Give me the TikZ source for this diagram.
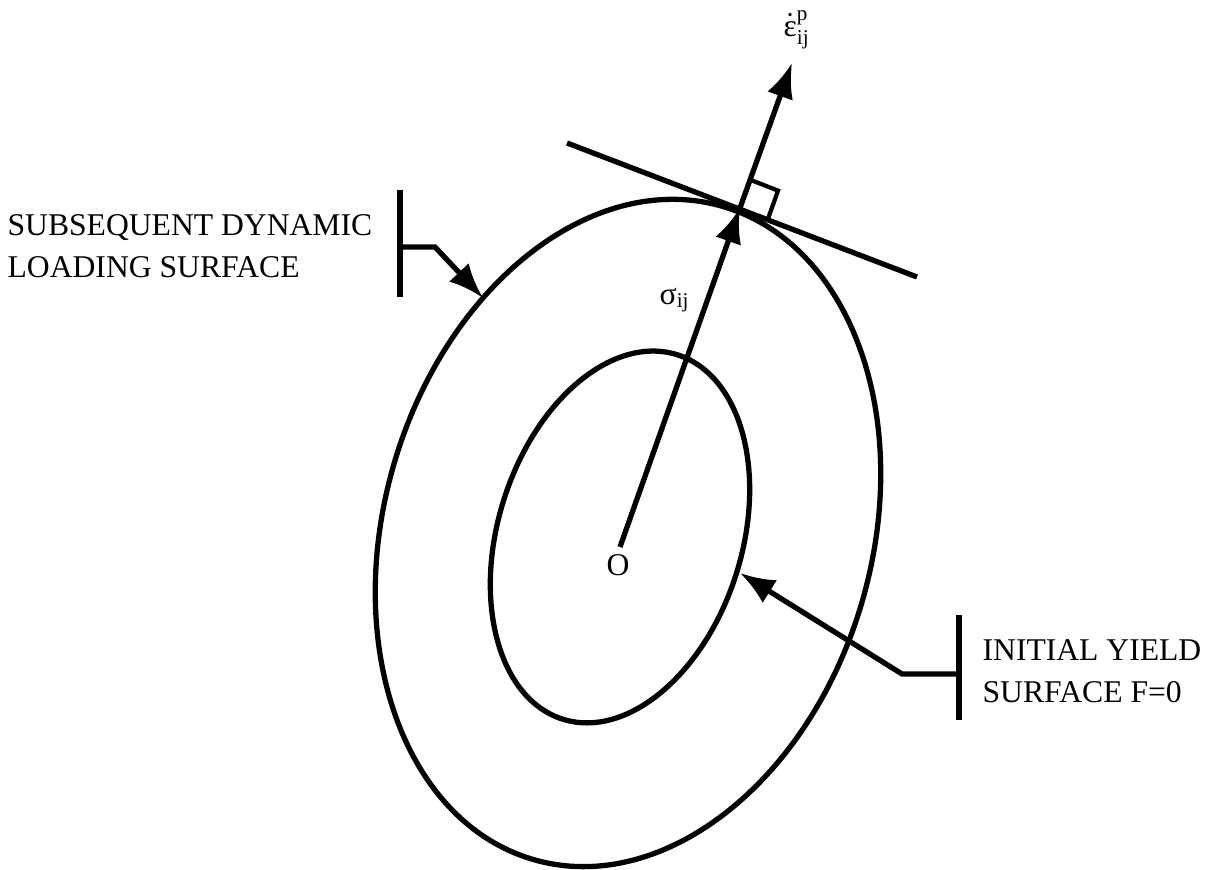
\documentclass[tikz,border=0pt]{standalone}
\usepackage{amsmath}
\usepackage{fontspec}
\setmainfont{Liberation Serif}
\usetikzlibrary{arrows.meta,calc}
\begin{document}
\begin{tikzpicture}[>={Latex[length=3.5mm,width=2.7mm]}, line width=1.5pt, font=\fontsize{9}{12}\selectfont]
\useasboundingbox (0,0) rectangle (12.08,8.70);
% surfaces
\draw[rotate around={-16.1:(6.28,3.37)}] (6.28,3.37) ellipse (2.44 and 3.40);
\draw[rotate around={-17.4:(6.20,3.33)}] (6.20,3.33) ellipse (1.22 and 1.91);
% stress vector and normal
\coordinate (o1) at (6.20,3.23);
\coordinate (p) at (7.40,6.62);
\coordinate (tip) at (7.92,8.07);
\coordinate (tl) at (5.67,7.27);
\coordinate (tr) at (9.17,5.93);
\node (o) at (6.18,3.05) {O};
\node (sig) at (6.75,5.70) {$\text{σ}_{\text{ij}}$};
\node (eps) at (7.97,8.40) {$\dot{\text{ε}}^{\text{p}}_{\text{ij}}$};
\draw[->] (o1) -- (p);
\draw[->] (p) -- (tip);
\draw (tl) -- (tr);
\coordinate (n1) at ($(p)!0.3cm!(tip)$);
\coordinate (t1) at ($(p)!0.3cm!(tr)$);
\draw[line width=1.2pt] (n1) -- ($(n1)+(t1)-(p)$) -- (t1);
% labels
\node[anchor=west, align=left, inner sep=0pt] (load) at (0.05,6.24) {SUBSEQUENT DYNAMIC\\LOADING SURFACE};
\coordinate (lb1) at (4.00,6.80);
\coordinate (lb2) at (4.00,5.73);
\coordinate (lk) at (4.00,6.23);
\coordinate (lm) at (4.35,6.23);
\coordinate (lt) at (4.83,5.72);
\draw (lb1) -- (lb2);
\draw[->] (lk) -- (lm) -- (lt);
\node[anchor=west, align=left, inner sep=0pt] (init) at (9.80,1.985) {INITIAL YIELD\\SURFACE F=0};
\coordinate (rb1) at (9.59,2.55);
\coordinate (rb2) at (9.59,1.50);
\coordinate (rk) at (9.59,1.96);
\coordinate (rm) at (9.02,1.96);
\coordinate (rt) at (7.40,2.97);
\draw (rb1) -- (rb2);
\draw[->] (rk) -- (rm) -- (rt);
\end{tikzpicture}
\end{document}
